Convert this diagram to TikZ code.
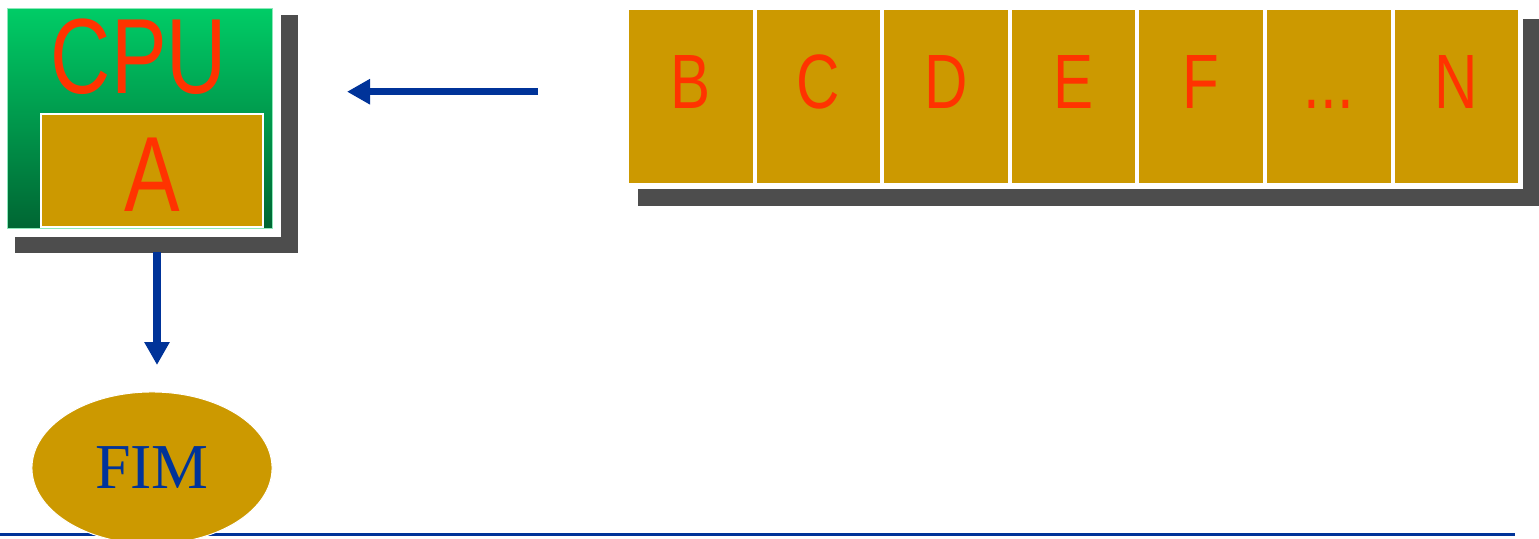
\documentclass[tikz,border=0pt]{standalone}
\usepackage{fontspec}
\usepackage{graphicx}
\usepackage{tikz}
\usetikzlibrary{arrows.meta,positioning,calc,shapes.geometric,backgrounds}
\setmainfont{Liberation Serif}
\newfontfamily\arialfont{Liberation Sans}
\definecolor{gold}{HTML}{CC9900}
\definecolor{labelred}{HTML}{FF3300}
\definecolor{shadowgray}{HTML}{4D4D4D}
\definecolor{flowblue}{HTML}{003399}
\definecolor{cputop}{HTML}{00CC66}
\definecolor{cpubottom}{HTML}{006633}
\newcommand{\narrowtext}[1]{\scalebox{0.78}[1]{#1}}
\newcommand{\slotdots}{...}

\begin{document}
\begin{tikzpicture}[x=0.01cm,y=-0.01cm,
  slot/.style={fill=gold,draw=white,line width=0.02cm,minimum width=1.256cm,minimum height=1.75cm,inner sep=0pt},
  letter/.style={font=\arialfont\fontsize{21.9pt}{22pt}\selectfont,text=labelred,inner sep=0pt,anchor=base},
  bigletter/.style={font=\arialfont\fontsize{30.4pt}{31pt}\selectfont,text=labelred,inner sep=0pt,anchor=base},
  flow/.style={draw=flowblue,line width=0.075cm,-{Triangle[length=0.23cm,width=0.24cm]}}]
\useasboundingbox (0,0) rectangle (1539,538);
\draw[flowblue,line width=0.03cm] (0,534) -- (1515,534);
\node[rectangle,top color=cputop,bottom color=cpubottom,draw=cputop!45!white,line width=0.01cm,minimum width=2.64cm,minimum height=2.19cm] (cpu) at (140,118.5) {};
\node[bigletter] (cpulabel) at (139,93.3) {\narrowtext{CPU}};
\node[slot,minimum width=2.22cm,minimum height=1.12cm] (a) at (152,170.5) {};
\node[bigletter] (alabel) at (152,211) {\narrowtext{A}};
\foreach \name/\txt [count=\i from 0] in {b/B,c/C,d/D,e/E,f/F,more/\slotdots,n/N}{
  \node[slot] (\name) at ({690.8+127.6*\i},96.7) {};
  \node[letter] (\name-label) at ({690.8+127.6*\i},108.3) {\narrowtext{\txt}};
}
\begin{scope}[on background layer]
\fill[shadowgray] ($(cpu.north west)+(8,7)$) rectangle ($(cpu.south east)+(25,24)$);
\fill[white] (cpu.north west) rectangle ($(cpu.south east)+(8,8)$);
\fill[shadowgray] ($(b.north west)+(11,11)$) rectangle ($(n.south east)+(19,21)$);
\fill[white] (b.north west) rectangle ($(n.south east)+(3,4)$);
\end{scope}
\coordinate (queueout) at (538,91.7);
\coordinate (cpuin) at (347,91.7);
\draw[flow] (queueout) -- (cpuin);
\coordinate (cpuout) at (157,252);
\coordinate (fimin) at (157,365);
\draw[flow] (cpuout) -- (fimin);
\node[ellipse,fill=gold,draw=white,line width=0.01cm,minimum width=2.4cm,minimum height=1.52cm,inner sep=0pt,text=flowblue,font=\fontsize{18.2pt}{19pt}\selectfont] (fim) at (152,468) {FIM};
\end{tikzpicture}
\end{document}
